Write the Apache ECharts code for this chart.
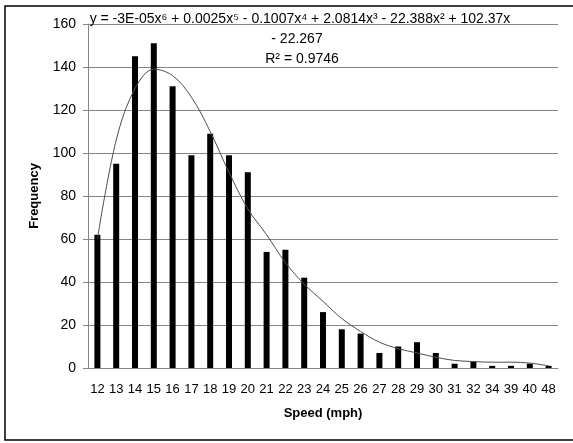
<!DOCTYPE html>
<html>
<head>
<meta charset="utf-8">
<script src="https://cdn.jsdelivr.net/npm/echarts@6/dist/echarts.min.js"></script>
<style>
html,body{margin:0;padding:0;background:#fff;}
#chart{width:573px;height:443px;}
</style>
</head>
<body>
<div id="chart"></div>
<script>
const categories = ['12','13','14','15','16','17','18','19','20','21','22','23','24','25','26','27','28','29','30','31','32','34','39','40','48'];
const frequency = [62,95,145,151,131,99,109,99,91,54,55,42,26,18,16,7,10,12,7,2,3,1,1,2,1];
const trendline = [60,106,130,139,136,126,110,91,74,62,49,39,31,23,17,12,9,7,5,3.5,3,2.7,2.7,2.3,1];
const yTicks = [0,20,40,60,80,100,120,140,160];
const equationLines = ['y = -3E-05x⁶ + 0.0025x⁵ - 0.1007x⁴ + 2.0814x³ - 22.388x² + 102.37x', '- 22.267', 'R² = 0.9746'];

const chart = echarts.init(document.getElementById('chart'), null, {renderer:'canvas'});
const font = '"Liberation Sans", Arial, sans-serif';
chart.setOption({
  animation:false,
  backgroundColor:'#fff',
  grid:{left:88, right:15, top:24, bottom:75, containLabel:false},
  xAxis:{
    type:'category', data:categories, boundaryGap:true,
    name:'Speed (mph)', nameLocation:'middle', nameGap:39,
    nameTextStyle:{fontFamily:font, fontWeight:'bold', fontSize:13, color:'#000'},
    axisLine:{show:true, lineStyle:{color:'#868686', width:1}},
    axisTick:{show:false},
    axisLabel:{interval:0, margin:15, fontFamily:font, fontSize:13, color:'#000'}
  },
  yAxis:{
    type:'value', min:yTicks[0], max:yTicks[yTicks.length-1], interval:20,
    name:'Frequency', nameLocation:'middle', nameGap:47, nameRotate:90,
    nameTextStyle:{fontFamily:font, fontWeight:'bold', fontSize:13, color:'#000'},
    axisLine:{show:true, lineStyle:{color:'#868686', width:1}},
    axisTick:{show:true, inside:false, length:5, lineStyle:{color:'#868686'}},
    axisLabel:{margin:12, fontFamily:font, fontSize:14, color:'#000'},
    splitLine:{show:true, lineStyle:{color:'#868686', width:1}}
  },
  series:[
    {type:'bar', data:frequency, barWidth:6, itemStyle:{color:'#000'}, z:2},
    {type:'line', data:trendline, smooth:0.35, symbol:'none', z:3,
     lineStyle:{color:'#4d4d4d', width:1}}
  ],
  graphic:[
    {type:'rect', shape:{x:5, y:6, width:580, height:434}, style:{fill:'none', stroke:'#000', lineWidth:1.5}, z:-1, silent:true},
    {type:'text', x:300, y:19, style:{text:equationLines[0], font:'14px '+font, fill:'#000', textAlign:'center', textVerticalAlign:'middle'}, z:10},
    {type:'text', x:297, y:39, style:{text:equationLines[1], font:'14px '+font, fill:'#000', textAlign:'center', textVerticalAlign:'middle'}, z:10},
    {type:'text', x:302, y:59, style:{text:equationLines[2], font:'14px '+font, fill:'#000', textAlign:'center', textVerticalAlign:'middle'}, z:10}
  ]
});
</script>
</body>
</html>
